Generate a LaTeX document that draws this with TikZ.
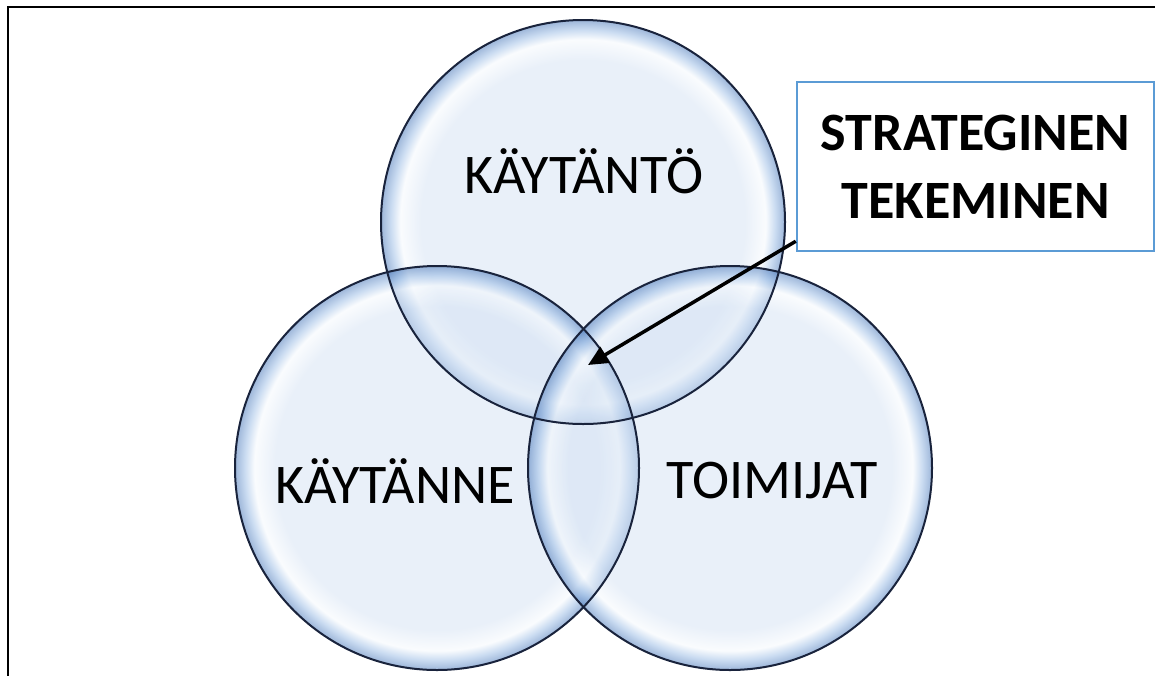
\documentclass[tikz,border=0pt]{standalone}
\usepackage{fontspec}
\setmainfont{Carlito}
\usepackage{tikz}
\usetikzlibrary{arrows.meta,positioning,calc}
\usepackage{xcolor}

\definecolor{bubin}{RGB}{211,225,243}
\definecolor{bubhi}{RGB}{245,249,253}
\definecolor{bubmid}{RGB}{150,185,228}
\definecolor{bubrim}{RGB}{60,110,180}
\definecolor{ringcol}{RGB}{25,35,60}
\definecolor{boxblue}{RGB}{91,155,213}
\pgfdeclareradialshading{bubble}{\pgfpointorigin}{color(0bp)=(bubin); color(20bp)=(bubin); color(22.6bp)=(bubhi); color(23.8bp)=(bubmid); color(25bp)=(bubrim); color(50bp)=(bubrim)}

\begin{document}
\begin{tikzpicture}[x=1pt, y=-1pt,
  bubble/.style={circle, minimum size=404pt, inner sep=0pt, shade, shading=bubble, fill opacity=0.5},
  ring/.style={draw=ringcol, line width=2pt},
  lbl/.style={font=\fontsize{56}{62}\selectfont, inner sep=0pt},
  note/.style={rectangle, draw=boxblue, line width=2.5pt, fill=white, minimum width=357pt, minimum height=169pt, align=center, font=\bfseries\fontsize{54}{70}\selectfont},
  arr/.style={-{Triangle[length=20pt,width=18pt]}, line width=3.5pt},
  frame/.style={draw=black, line width=2pt}
]
\useasboundingbox (0,0) rectangle (1155,675);
\draw[frame] (8,680) |- (1160,7);

\node[bubble] (top)   at (583,222) {};
\node[bubble] (left)  at (437,468) {};
\node[bubble] (right) at (730,468) {};
\foreach \c in {top,left,right}
  \draw[ring] (\c.center) circle (202);

\node[lbl, anchor=base] (kto) at (584,193) {KÄYTÄNTÖ};
\node[lbl, anchor=base] (kne) at (395,503) {KÄYTÄNNE};
\node[lbl, anchor=base] (toi) at (772,498) {TOIMIJAT};

\node[note] (note) at (975.5,166.5) {STRATEGINEN\\[-2pt]TEKEMINEN};
\coordinate (tip) at (588,365);
\draw[arr] ($(note.south west)+(0,-11)$) -- (tip);
\end{tikzpicture}
\end{document}
